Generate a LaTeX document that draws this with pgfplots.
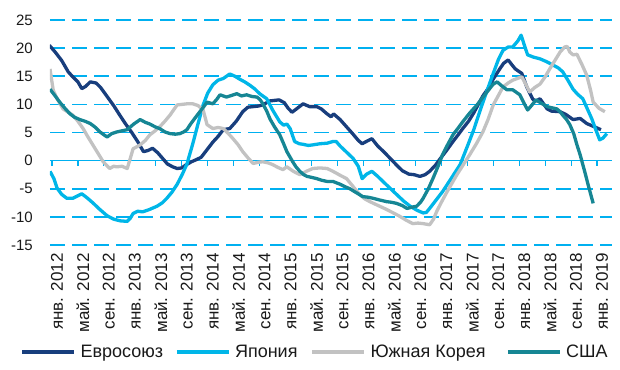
\documentclass[border=0pt]{standalone}
\usepackage{fontspec}
\setmainfont{Liberation Sans}
\usepackage{pgfplots}
\pgfplotsset{compat=1.18}
\definecolor{gridc}{RGB}{0,176,240}
\definecolor{eu}{RGB}{24,62,125}
\definecolor{jp}{RGB}{0,182,232}
\definecolor{kr}{RGB}{194,194,194}
\definecolor{us}{RGB}{22,134,148}
\definecolor{txt}{RGB}{25,25,25}
\begin{document}
\begin{tikzpicture}
% zero line with tick marks
\begin{axis}[scale only axis, width=562pt, height=225pt,
  xmin=-0.3, xmax=86.3, ymin=-15, ymax=25,
  axis x line=middle, axis y line=none,
  xtick={0,4,8,12,16,20,24,28,32,36,40,44,48,52,56,60,64,68,72,76,80,84},
  xticklabels={}, ytick=\empty,
  x axis line style={-, draw=gridc, line width=1.5pt},
  major tick length=5pt, tick align=outside,
  xtick style={draw=gridc, line width=1.2pt}]
\end{axis}
\begin{axis}[scale only axis, width=562pt, height=225pt,
  xmin=-0.3, xmax=86.3, ymin=-15, ymax=25,
  axis line style={draw=none},
  xtick style={draw=none}, ytick style={draw=none}, major tick length=0pt,
  ytick={-15,-10,-5,0,5,10,15,20,25},
  yticklabels={-15,-10,-5,0,5,10,15,20,25},
  yticklabel style={font=\fontsize{15}{15}\selectfont, text=txt, inner sep=0pt, xshift=-17pt, anchor=east},
  ymajorgrids, grid style={gridc, line width=1.5pt, dash pattern=on 15pt off 7pt},
  xtick={0.77,4.77,8.77,12.77,16.77,20.77,24.77,28.77,32.77,36.77,40.77,44.77,48.77,52.77,56.77,60.77,64.77,68.77,72.77,76.77,80.77,84.77},
  xticklabels={янв. 2012,май. 2012,сен. 2012,янв. 2013,май. 2013,сен. 2013,янв. 2014,май. 2014,сен. 2014,янв. 2015,май. 2015,сен. 2015,янв. 2016,май. 2016,сен. 2016,янв. 2017,май. 2017,сен. 2017,янв. 2018,май. 2018,сен. 2018,янв. 2019},
  xticklabel style={font=\fontsize{17}{17}\selectfont, text=txt, inner sep=0pt, yshift=-8pt, rotate=90, anchor=east},
  legend columns=4,
  legend cell align=left,
  legend image code/.code={\draw[#1, line width=4.5pt] (0pt,0pt) -- (52pt,0pt);},
  legend style={at={(-0.05338,-0.4756)}, anchor=west, draw=none, fill=none,
    inner sep=0pt, outer sep=0pt, font=\fontsize{18}{18}\selectfont, text=txt,
    column sep=0pt, nodes={inner sep=0pt},
    /tikz/every odd column/.append style={column sep=4pt}},
  every axis plot/.append style={line width=3.3pt, line join=round}
]
\addplot[eu] coordinates {
(-0.4,20.5) (0.5,19.3) (1.5,17.8) (2.5,15.8) (3.2,14.9) (4,14.0) (4.6,12.8) (5.2,13.2) (5.9,14.0) (6.8,13.8) (7.5,13.0) (8.5,11.4) (9.5,9.8) (10.5,8.0) (11.3,6.6) (12.3,5.0) (13.2,3.4) (14.1,1.6) (14.8,1.8) (15.5,2.2) (16.3,1.4) (17.2,0.2) (17.8,-0.6) (18.6,-1.1) (19.3,-1.4) (20.0,-1.3) (20.6,-0.8) (21.5,-0.2) (22.3,0.2) (23,0.6) (23.8,1.8) (24.8,3.3) (25.6,4.3) (26.4,5.5) (27.4,5.7) (28.4,7.0) (29.4,8.7) (30.2,9.5) (31,9.6) (31.8,9.7) (32.5,9.9) (33.5,10.6) (35,10.8) (35.8,10.3) (36.4,9.3) (37,8.6) (37.8,9.3) (38.7,10.1) (39.7,9.6) (40.8,9.6) (41.5,9.2) (42.3,8.4) (43,7.8) (43.4,8.3) (44.4,7.3) (45.4,6.0) (46.4,4.7) (47.2,3.6) (47.8,3.0) (48.6,3.5) (49.3,3.9) (50.2,2.6) (51.2,1.5) (52.2,0.3) (53.2,-0.9) (54,-1.8) (55,-2.4) (55.8,-2.5) (56.7,-2.8) (57.5,-2.5) (58.2,-1.9) (59.1,-0.8) (59.8,0.3) (60.8,1.8) (61.8,3.4) (62.6,4.6) (63.3,5.7) (64.2,7.0) (65,8.5) (66.4,11.5) (67.2,12.8) (68,14.5) (69,16.3) (69.6,17.3) (70.3,17.9) (70.9,17.0) (71.4,16.3) (72.4,15.5) (73.2,13.0) (74.1,10.9) (74.6,10.6) (75.2,11.0) (76.3,9.2) (77,8.8) (78.3,8.7) (79.2,8.2) (80.3,7.3) (81.4,7.5) (82.4,6.6) (83.2,6.2) (84,5.8) (84.6,5.5)
};
\addlegendentry{\makebox[94pt][l]{Евросоюз}}
\addplot[jp] coordinates {
(-0.3,-1.9) (0.3,-3.2) (0.8,-4.9) (1.5,-6.0) (2.3,-6.7) (3.2,-6.7) (3.9,-6.3) (4.6,-5.9) (5.4,-6.6) (6.3,-7.5) (7.3,-8.6) (8.5,-9.8) (9.5,-10.4) (10.5,-10.7) (11.6,-10.8) (12.1,-10.2) (12.5,-9.4) (13.2,-9.0) (14,-9.1) (15,-8.7) (16.2,-8.1) (17,-7.5) (17.7,-6.7) (18.5,-5.6) (19.3,-4.2) (20.1,-2.4) (20.8,-0.6) (21.7,3.0) (22.5,6.5) (23.3,9.9) (24,12.0) (24.8,13.5) (25.6,14.3) (26.4,14.6) (27.4,15.4) (28.2,15.0) (28.9,14.5) (29.7,14.0) (30.5,13.4) (31.3,12.7) (32,11.9) (33.1,11.0) (34,9.0) (35.1,6.9) (35.7,6.3) (36.2,6.5) (36.7,5.7) (37.4,3.4) (38.1,3.0) (38.7,2.9) (39.5,2.7) (40.2,2.8) (41.3,3.0) (42.4,3.1) (43.3,3.4) (43.8,3.4) (44.4,2.6) (45.4,1.5) (46.4,0.4) (47.2,-1.0) (47.8,-3.2) (48.5,-2.4) (49.3,-1.9) (50.2,-2.8) (51,-3.7) (52,-4.8) (53.1,-6.0) (54.2,-7.2) (55.2,-8.1) (56.2,-8.8) (57.2,-9.3) (57.7,-9.2) (58.2,-8.5) (59.2,-7.0) (60.2,-5.5) (61.5,-3.2) (62.9,-0.7) (64,2.5) (65,5.5) (66,9.0) (67,12.3) (68,15.5) (68.8,18.0) (69.5,19.6) (70.3,20.2) (71,20.2) (71.8,21.3) (72.3,22.3) (72.8,20.5) (73.3,18.8) (74.2,18.4) (75.2,18.1) (76.2,17.6) (77.2,17.0) (78,16.5) (78.7,15.8) (79.5,14.3) (80.3,12.7) (81,11.8) (81.8,11.0) (82.5,9.2) (83.2,7.4) (83.8,5.5) (84.4,3.7) (84.9,4.0) (85.5,4.8)
};
\addlegendentry{\makebox[75pt][l]{Япония}}
\addplot[kr] coordinates {
(-0.3,16.3) (0.2,12.5) (0.8,11.0) (1.7,9.2) (2.5,8.6) (3.2,8.1) (4,7.0) (4.8,5.7) (5.5,4.3) (6.3,2.8) (7.1,1.3) (7.9,-0.2) (8.9,-1.4) (9.5,-1.0) (10,-1.1) (10.8,-1.0) (11.6,-1.4) (12.1,0.5) (12.5,2.1) (13.6,2.8) (14.4,3.6) (15.1,4.6) (15.9,5.3) (16.6,6.0) (17.4,7.0) (18.2,8.1) (18.8,9.1) (19.3,9.9) (20.8,10.1) (21.7,10.1) (22.5,9.8) (23.3,9.0) (23.9,6.4) (24.8,5.7) (25.6,5.9) (26.4,5.7) (27.2,4.8) (27.9,3.9) (28.7,2.8) (29.4,1.6) (30.2,0.5) (31,-0.5) (31.8,-0.3) (32.5,-0.2) (33.3,-0.4) (34,-0.7) (34.8,-1.2) (35.6,-1.6) (36.2,-1.1) (37.2,-1.9) (38.2,-2.5) (39.2,-1.9) (40.2,-1.4) (41.3,-1.3) (42.4,-1.4) (43.3,-1.9) (44.4,-2.6) (45.4,-3.2) (46.4,-4.6) (47.4,-6.0) (48.2,-6.8) (49,-7.3) (50.3,-8.0) (51.6,-8.7) (52.6,-9.3) (53.6,-9.9) (54.6,-10.6) (55.6,-11.2) (56.4,-11.1) (57.2,-11.2) (58.2,-11.4) (58.8,-10.4) (59.3,-9.0) (60.1,-7.2) (60.9,-5.5) (61.7,-3.9) (62.4,-2.5) (63.4,-0.7) (64.4,1.1) (65.4,3.0) (66.4,5.1) (67.2,7.3) (68,9.9) (68.8,11.6) (69.5,13.1) (70.3,13.8) (71,14.3) (71.7,14.6) (72.4,14.9) (73,13.6) (73.6,12.2) (74.4,13.0) (75.2,13.6) (76,14.9) (76.7,16.3) (77.5,17.8) (78.3,19.3) (79,20.2) (79.4,20.3) (79.8,19.3) (80.3,18.8) (80.9,18.9) (81.7,17.0) (82.4,15.2) (83,12.5) (83.4,10.4) (84.3,9.3) (85.2,8.7)
};
\addlegendentry{\makebox[135pt][l]{Южная Корея}}
\addplot[us] coordinates {
(-0.3,12.7) (0.5,11.5) (1.2,10.4) (2,9.3) (2.8,8.3) (3.5,7.7) (4.3,7.3) (5.1,7.0) (5.9,6.6) (6.6,6.0) (7.4,5.1) (8,4.6) (8.5,4.2) (9.2,4.8) (10,5.1) (10.8,5.3) (11.6,5.5) (12.6,6.5) (13.6,7.3) (14.4,6.8) (15.1,6.5) (15.9,6.0) (16.6,5.7) (17.4,5.1) (18.2,4.8) (19,4.7) (19.7,4.8) (20.3,5.1) (20.8,5.5) (21.3,6.4) (22,7.5) (22.8,8.7) (23.4,9.6) (23.9,10.4) (24.8,10.1) (25.4,10.9) (25.9,11.7) (26.9,11.3) (27.7,11.6) (28.5,11.9) (29.2,11.5) (30,11.7) (30.8,11.4) (31.6,11.3) (32.1,10.8) (32.5,10.1) (33.1,8.8) (33.6,7.4) (34.3,6.0) (35.1,4.6) (35.7,3.0) (36.2,1.6) (37.1,-0.2) (37.6,-1.1) (38.2,-1.9) (38.8,-2.5) (39.3,-2.8) (40.1,-3.0) (40.8,-3.2) (41.6,-3.5) (42.4,-3.7) (43.3,-3.7) (44.4,-4.2) (45.1,-4.6) (45.9,-5.0) (46.9,-5.7) (47.9,-6.4) (48.7,-6.5) (49.5,-6.7) (50.5,-7.0) (51.6,-7.3) (52.3,-7.4) (53.1,-7.6) (54,-8.0) (54.7,-8.5) (55.4,-8.3) (56.2,-8.1) (56.8,-7.4) (57.2,-6.7) (58,-5.0) (58.7,-3.2) (59.5,-1.0) (60.2,1.1) (61,2.9) (61.8,4.6) (62.6,5.8) (63.3,6.9) (64.4,8.5) (65.5,9.9) (66.7,11.7) (68,13.6) (68.6,14.0) (69.3,13.3) (70.1,12.6) (71,12.6) (72.1,11.7) (72.7,10.3) (73.3,9.0) (73.9,9.8) (74.6,10.8) (75.4,10.2) (76.3,9.6) (77,9.4) (77.8,9.2) (78.3,8.7) (78.7,8.1) (79.3,7.3) (79.8,6.4) (80.4,4.8) (80.9,2.8) (81.4,1.0) (81.8,-0.7) (82.2,-2.4) (82.6,-4.2) (83,-5.9) (83.4,-7.6)
};
\addlegendentry{США}
\end{axis}
\pgfresetboundingbox
\path[use as bounding box] (-50pt,-124pt) rectangle (570pt,245pt);
\end{tikzpicture}
\end{document}
